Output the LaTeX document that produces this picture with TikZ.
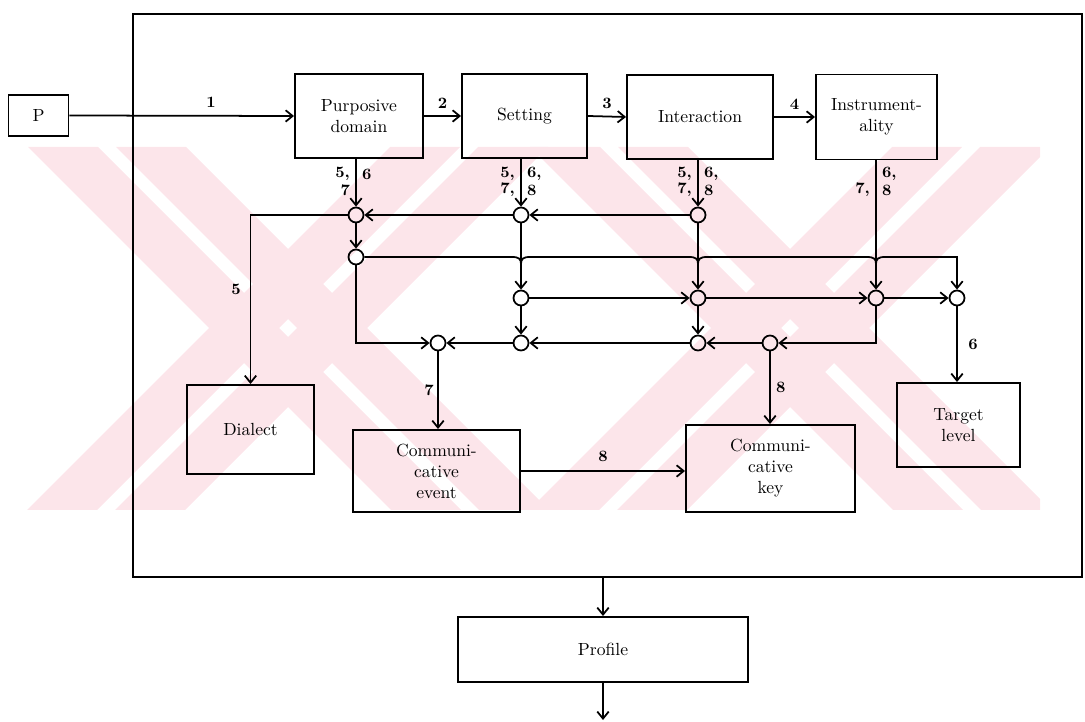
\documentclass[tikz,border=0pt]{standalone}
\usetikzlibrary{arrows.meta,calc}
\newlength\px
\setlength\px{0.02cm}
\definecolor{wmpink}{RGB}{252,229,234}
\tikzset{
  arr/.style={line width=1pt,-{Straight Barb[length=4pt,width=6.5pt,line width=1pt]}},
  blk/.style={draw,line width=1.1pt,align=center,inner sep=0pt,font=\normalsize},
  jn/.style={draw,circle,line width=1pt,minimum size=15\px,inner sep=0pt},
  lab/.style={font=\bfseries\small,inner sep=1pt},
}
\begin{document}
\begin{tikzpicture}[x=0.02cm,y=-0.02cm]
\useasboundingbox (0,0) rectangle (1085,722);
% watermark
\begin{scope}
\clip (0,147) rectangle (1040,510);
\foreach \x/\w in {28/70,116/70,530/70,618/70}{
  \fill[wmpink] (\x,147) -- ++(\w,0) -- ++(363,363) -- ++(-\w,0) -- cycle;
}
\foreach \x/\w in {390/70,478/70,892/70,980/70}{
  \fill[wmpink] (\x,147) -- ++(\w,0) -- ++(-363,363) -- ++(-\w,0) -- cycle;
}
\end{scope}
% outer frame
\node[draw,line width=1.1pt,minimum width=949\px,minimum height=563\px,inner sep=0pt] (outer) at (607.5,295.5) {};
% boxes
\node[blk,minimum width=60\px,minimum height=41\px] (p) at (38.5,115.5) {P};
\node[blk,minimum width=128\px,minimum height=84\px] (pd) at (359,116) {Purposive\\domain};
\node[blk,minimum width=125\px,minimum height=84\px] (st) at (524.5,116) {Setting};
\node[blk,minimum width=146\px,minimum height=84\px] (in) at (700,117) {Interaction};
\node[blk,minimum width=121\px,minimum height=85\px] (ins) at (876.5,117) {Instrument-\\ality};
\node[blk,minimum width=127\px,minimum height=89\px] (dia) at (250.5,429.5) {Dialect};
\node[blk,minimum width=167\px,minimum height=82\px] (ce) at (436.5,471) {Communi-\\cative\\event};
\node[blk,minimum width=169\px,minimum height=87\px] (ck) at (770.5,468.5) {Communi-\\cative\\key};
\node[blk,minimum width=123\px,minimum height=84\px] (tl) at (958.5,425) {Target\\level};
\node[blk,minimum width=290\px,minimum height=65\px] (pr) at (603,649.5) {Profile};
\coordinate (out) at (603,720);
% junctions
\node[jn] (a1) at (356,215) {};
\node[jn] (a2) at (356,257) {};
\node[jn] (b1) at (521,215) {};
\node[jn] (b2) at (521,298) {};
\node[jn] (b3) at (521,343) {};
\node[jn] (c1) at (698,215) {};
\node[jn] (c2) at (698,298) {};
\node[jn] (c3) at (698,343) {};
\node[jn] (d2) at (876,298) {};
\node[jn] (e) at (438,343) {};
\node[jn] (k) at (770,343) {};
\node[jn] (t) at (957,298) {};
\coordinate (tc) at (957,257);
% top chain
\draw[arr] (p.east) -- (pd.west) node[lab,pos=0.63,above=3pt] {1};
\draw[arr] (pd.east) -- (st.west) node[lab,midway,above=3pt] {2};
\draw[arr] (st.east) -- (in.west) node[lab,midway,above=3pt] {3};
\draw[arr] (in.east) -- (ins.west) node[lab,midway,above=3pt] {4};
% verticals from boxes
\draw[arr] (pd.south -| a1) -- (a1.north);
\draw[arr] (st.south -| b1) -- (b1.north);
\draw[arr] (in.south -| c1) -- (c1.north);
\draw[arr] (ins.south -| d2) -- (d2.north);
% labels under boxes
\node[lab,anchor=east] at (352,174) {5,};
\node[lab,anchor=east] at (352,190) {7};
\node[lab,anchor=west] at (360,174) {6};
\node[lab,anchor=east] at (517,174) {5,};
\node[lab,anchor=east] at (517,190) {7,};
\node[lab,anchor=west] at (525,174) {6,};
\node[lab,anchor=west] at (525,190) {8};
\node[lab,anchor=east] at (694,174) {5,};
\node[lab,anchor=east] at (694,190) {7,};
\node[lab,anchor=west] at (702,174) {6,};
\node[lab,anchor=west] at (702,190) {8};
\node[lab,anchor=east] at (872,190) {7,};
\node[lab,anchor=west] at (880,174) {6,};
\node[lab,anchor=west] at (880,190) {8};
% row 215
\draw[arr] (c1.west) -- (b1.east);
\draw[arr] (b1.west) -- (a1.east);
\draw[arr] (a1.west) -| (dia.north) node[lab,pos=0.72,left=4pt] {5};
% column verticals
\draw[arr] (a1.south) -- (a2.north);
\draw[arr] (b1.south) -- (b2.north);
\draw[arr] (b2.south) -- (b3.north);
\draw[arr] (c1.south) -- (c2.north);
\draw[arr] (c2.south) -- (c3.north);
% row 257 with line jumps
\draw[arr] (a2.east)
  -- ($(a2 -| b1)+(-9,0)$) .. controls ($(a2 -| b1)+(-2,0)$) and ($(a2 -| b1)+(0,2)$) .. ($(a2 -| b1)+(0,7)$)
  .. controls ($(a2 -| b1)+(0,2)$) and ($(a2 -| b1)+(2,0)$) .. ($(a2 -| b1)+(9,0)$)
  -- ($(a2 -| c1)+(-9,0)$) .. controls ($(a2 -| c1)+(-2,0)$) and ($(a2 -| c1)+(0,2)$) .. ($(a2 -| c1)+(0,7)$)
  .. controls ($(a2 -| c1)+(0,2)$) and ($(a2 -| c1)+(2,0)$) .. ($(a2 -| c1)+(9,0)$)
  -- ($(a2 -| d2)+(-9,0)$) .. controls ($(a2 -| d2)+(-2,0)$) and ($(a2 -| d2)+(0,2)$) .. ($(a2 -| d2)+(0,7)$)
  .. controls ($(a2 -| d2)+(0,2)$) and ($(a2 -| d2)+(2,0)$) .. ($(a2 -| d2)+(9,0)$)
  -- (tc) -- (t.north);
% row 298
\draw[arr] (b2.east) -- (c2.west);
\draw[arr] (c2.east) -- (d2.west);
\draw[arr] (d2.east) -- (t.west);
% row 343
\draw[arr] (a2.south) |- (e.west);
\draw[arr] (b3.west) -- (e.east);
\draw[arr] (c3.west) -- (b3.east);
\draw[arr] (k.west) -- (c3.east);
\draw[arr] (d2.south) |- (k.east);
% down to bottom boxes
\draw[arr] (e.south) -- (e |- ce.north) node[lab,pos=0.5,left=1pt] {7};
\draw[arr] (k.south) -- (k |- ck.north) node[lab,pos=0.5,right=2pt] {8};
\draw[arr] (t.south) -- (t |- tl.north) node[lab,pos=0.5,right=5pt] {6};
\draw[arr] (ce.east) -- (ce.east -| ck.west) node[lab,midway,above=4pt] {8};
% profile
\draw[arr] (outer.south -| pr) -- (pr.north);
\draw[arr] (pr.south) -- (out);
\end{tikzpicture}
\end{document}
